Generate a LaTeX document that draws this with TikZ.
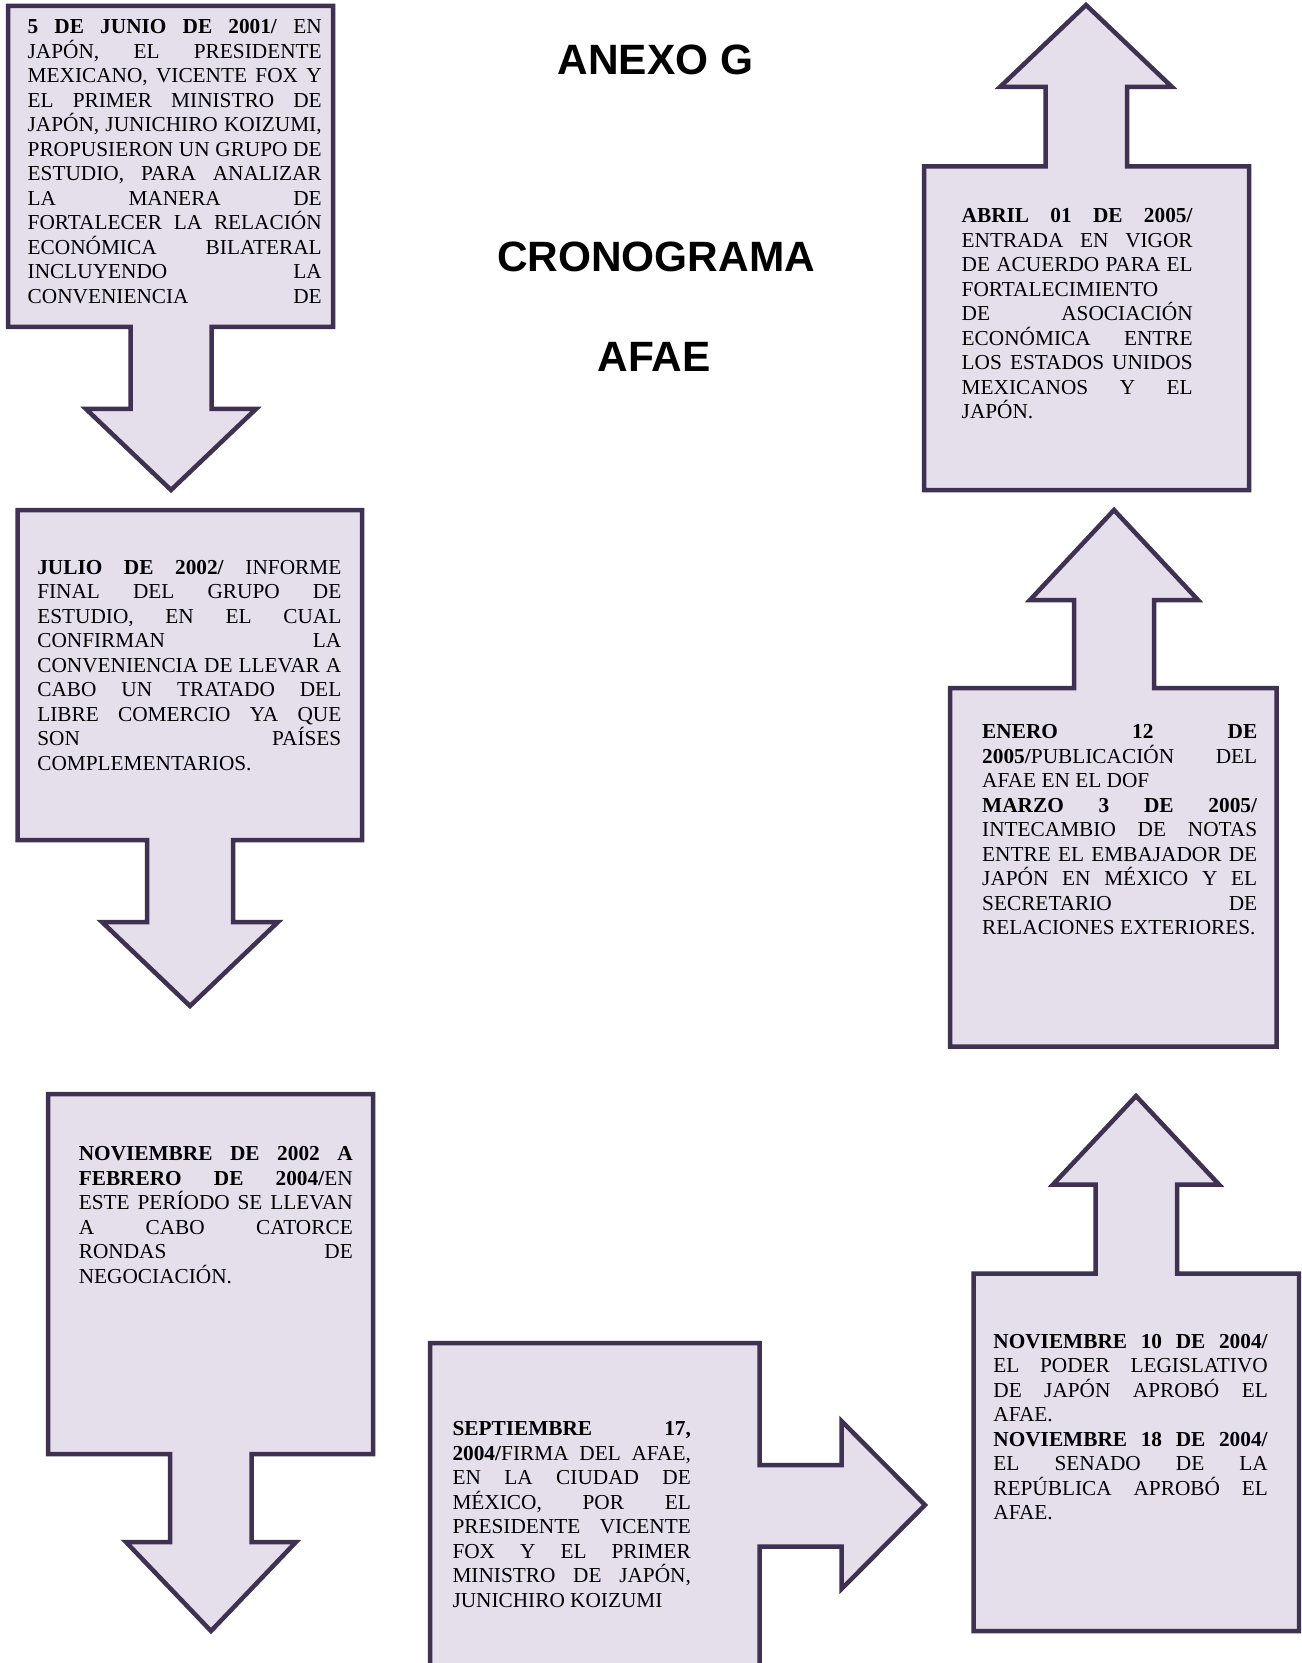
\documentclass[tikz,border=0pt]{standalone}
\usepackage{fontspec}
\setmainfont{Liberation Serif}
\newfontfamily\titlefont{Liberation Sans}
\definecolor{edgecol}{HTML}{3F3151}
\definecolor{lavfill}{HTML}{E5DFEC}
\newcommand{\jline}[1]{\makebox[\linewidth][s]{#1}\par}
\newcommand{\lline}[1]{#1\par}
\newcommand{\txtblock}[2]{\parbox[t]{#1}{\fontsize{10.65pt}{12.25pt}\selectfont\setlength{\parindent}{0pt}\setlength{\parskip}{0pt}#2}}
\tikzset{
  callout/.style={draw=edgecol, fill=lavfill, line width=2.25pt, line join=miter},
  blocktext/.style={anchor=base west, inner sep=0pt, outer sep=0pt},
  titletext/.style={anchor=base, inner sep=0pt, font=\titlefont\bfseries\fontsize{21.2pt}{25pt}\selectfont}
}
\begin{document}
\begin{tikzpicture}[x=0.5pt, y=-0.5pt]
\useasboundingbox (0,0) rectangle (1301,1663);
\fill[white] (0,0) rectangle (1301,1663);
\clip (0,0) rectangle (1301,1663);

% titles
\node[titletext] (t1) at (655.5,75) {ANEXO G};
\node[titletext] (t2) at (656,271.7) {CRONOGRAMA};
\node[titletext] (t3) at (654,371.7) {AFAE};

% shape 1: down arrow
\draw[callout] (8,6) -- (333,6) -- (333,327) -- (211.5,327) -- (211.5,409) -- (256,409) -- (171,490) -- (86,409) -- (130.5,409) -- (130.5,327) -- (8,327) -- cycle;
\node[blocktext] (b1) at (27.7,34) {\txtblock{147pt}{%
\jline{\textbf{5 DE JUNIO DE 2001/} EN}
\jline{JAPÓN, EL PRESIDENTE}
\jline{MEXICANO, VICENTE FOX Y}
\jline{EL PRIMER MINISTRO DE}
\jline{JAPÓN, JUNICHIRO KOIZUMI,}
\jline{PROPUSIERON UN GRUPO DE}
\jline{ESTUDIO, PARA ANALIZAR}
\jline{LA MANERA DE}
\jline{FORTALECER LA RELACIÓN}
\jline{ECONÓMICA BILATERAL}
\jline{INCLUYENDO LA}
\jline{CONVENIENCIA DE}}};

% shape 2: down arrow
\draw[callout] (17.5,510) -- (362,510) -- (362,840) -- (233,840) -- (233,922) -- (278,922) -- (190,1006) -- (102,922) -- (147,922) -- (147,840) -- (17.5,840) -- cycle;
\node[blocktext] (b2) at (37.3,574) {\txtblock{152pt}{%
\jline{\textbf{JULIO DE 2002/} INFORME}
\jline{FINAL DEL GRUPO DE}
\jline{ESTUDIO, EN EL CUAL}
\jline{CONFIRMAN LA}
\jline{CONVENIENCIA DE LLEVAR A}
\jline{CABO UN TRATADO DEL}
\jline{LIBRE COMERCIO YA QUE}
\jline{SON PAÍSES}
\lline{COMPLEMENTARIOS.}}};

% shape 3: down arrow
\draw[callout] (48,1094) -- (373,1094) -- (373,1454) -- (251.5,1454) -- (251.5,1542) -- (296,1542) -- (211,1631) -- (126,1542) -- (170,1542) -- (170,1454) -- (48,1454) -- cycle;
\node[blocktext] (b3) at (78.8,1160.5) {\txtblock{137pt}{%
\jline{\textbf{NOVIEMBRE DE 2002 A}}
\jline{\textbf{FEBRERO DE 2004/}EN}
\jline{ESTE PERÍODO SE LLEVAN}
\jline{A CABO CATORCE}
\jline{RONDAS DE}
\lline{NEGOCIACIÓN.}}};

% shape 6: right arrow
\draw[callout] (430,1700) -- (430,1343) -- (759.5,1343) -- (759.5,1465) -- (841.5,1465) -- (841.5,1421) -- (925,1505) -- (841.5,1589) -- (841.5,1546.5) -- (759.5,1546.5) -- (759.5,1700) -- cycle;
\node[blocktext] (b6) at (452.5,1435.5) {\txtblock{119.2pt}{%
\jline{\textbf{SEPTIEMBRE 17,}}
\jline{\textbf{2004/}FIRMA DEL AFAE,}
\jline{EN LA CIUDAD DE}
\jline{MÉXICO, POR EL}
\jline{PRESIDENTE VICENTE}
\jline{FOX Y EL PRIMER}
\jline{MINISTRO DE JAPÓN,}
\lline{JUNICHIRO KOIZUMI}}};

% shape 7: up arrow
\draw[callout] (973.5,1631) -- (973.5,1273.5) -- (1095.5,1273.5) -- (1095.5,1184.5) -- (1053,1184.5) -- (1136,1096) -- (1219,1184.5) -- (1177,1184.5) -- (1177,1273.5) -- (1299,1273.5) -- (1299,1631) -- cycle;
\node[blocktext] (b7) at (993.4,1348) {\txtblock{137.2pt}{%
\jline{\textbf{NOVIEMBRE 10 DE 2004/}}
\jline{EL PODER LEGISLATIVO}
\jline{DE JAPÓN APROBÓ EL}
\lline{AFAE.}
\jline{\textbf{NOVIEMBRE 18 DE 2004/}}
\jline{EL SENADO DE LA}
\jline{REPÚBLICA APROBÓ EL}
\lline{AFAE.}}};

% shape 5: up arrow
\draw[callout] (950,1046.5) -- (950,688) -- (1074,688) -- (1074,600) -- (1030,600) -- (1114,510) -- (1198,600) -- (1154,600) -- (1154,688) -- (1276.5,688) -- (1276.5,1046.5) -- cycle;
\node[blocktext] (b5) at (982.2,738.5) {\txtblock{137.5pt}{%
\jline{\textbf{ENERO 12 DE}}
\jline{\textbf{2005/}PUBLICACIÓN DEL}
\lline{AFAE EN EL DOF}
\jline{\textbf{MARZO 3 DE 2005/}}
\jline{INTECAMBIO DE NOTAS}
\jline{ENTRE EL EMBAJADOR DE}
\jline{JAPÓN EN MÉXICO Y EL}
\jline{SECRETARIO DE}
\lline{RELACIONES EXTERIORES.}}};

% shape 4: up arrow
\draw[callout] (924,490) -- (924,166.5) -- (1045.5,166.5) -- (1045.5,87) -- (1000,87) -- (1086,5) -- (1172,87) -- (1127,87) -- (1127,166.5) -- (1249,166.5) -- (1249,490) -- cycle;
\node[blocktext] (b4) at (961.7,222.7) {\txtblock{115.5pt}{%
\jline{\textbf{ABRIL 01 DE 2005/}}
\jline{ENTRADA EN VIGOR}
\jline{DE ACUERDO PARA EL}
\lline{FORTALECIMIENTO}
\jline{DE ASOCIACIÓN}
\jline{ECONÓMICA ENTRE}
\jline{LOS ESTADOS UNIDOS}
\jline{MEXICANOS Y EL}
\lline{JAPÓN.}}};
\end{tikzpicture}
\end{document}
